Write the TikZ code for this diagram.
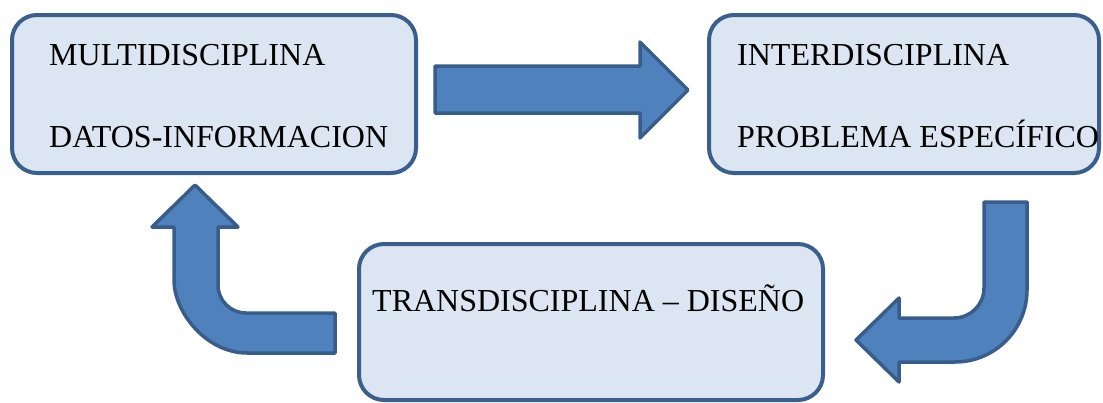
\documentclass[tikz,border=0pt]{standalone}
\usepackage{fontspec}
\setmainfont{Liberation Serif}
\definecolor{boxfill}{HTML}{DCE6F2}
\definecolor{boxline}{HTML}{3A5F8C}
\definecolor{arrowfill}{HTML}{4F81BD}
\definecolor{arrowline}{HTML}{385D8A}
\begin{document}
\begin{tikzpicture}[x=1pt, y=-1pt,
    box/.style={draw=boxline, fill=boxfill, line width=4pt, rounded corners=25pt, inner sep=0pt},
    txt/.style={anchor=base west, inner sep=0pt, font=\fontsize{32}{38}\selectfont},
    bigarrow/.style={draw=arrowline, fill=arrowfill, line width=3.5pt, line join=round}]
    \useasboundingbox (0,0) rectangle (1103,402);

    % the three boxes
    \node[box, minimum width=404pt, minimum height=158pt] (multi) at (214,94) {};
    \node[box, minimum width=390pt, minimum height=158pt] (inter) at (904,94) {};
    \node[box, minimum width=464pt, minimum height=156pt] (trans) at (591,322) {};

    \node[txt] (multiA) at (49,65) {MULTIDISCIPLINA};
    \node[txt] (multiB) at (49,147) {DATOS-INFORMACION};
    \node[txt] (interA) at (737,65) {INTERDISCIPLINA};
    \node[txt] (interB) at (737,147) {PROBLEMA ESPECÍFICO};
    \node[txt] (transA) at (372,311) {TRANSDISCIPLINA – DISEÑO};

    % block arrows
    \draw[bigarrow] (435,66) -- (640,66) -- (640,42) -- (688,90) -- (640,138)
        -- (640,113) -- (435,113) -- cycle;
    \draw[bigarrow] (984,202) -- (1027,202) -- (1027,290)
        .. controls (1027,329.7) and (994.7,362) .. (955,362)
        -- (899,362) -- (899,382) -- (856,340) -- (899,298) -- (899,318) -- (954,318)
        .. controls (970.6,318) and (984,304.6) .. (984,288) -- cycle;
    \draw[bigarrow] (195,185) -- (238,227) -- (218,227) -- (218,285)
        .. controls (218,300.5) and (230.5,313) .. (246,313)
        -- (335,313) -- (335,353) -- (247,353)
        .. controls (206.7,353) and (174,312.7) .. (174,280)
        -- (174,227) -- (152,227) -- cycle;
\end{tikzpicture}
\end{document}
